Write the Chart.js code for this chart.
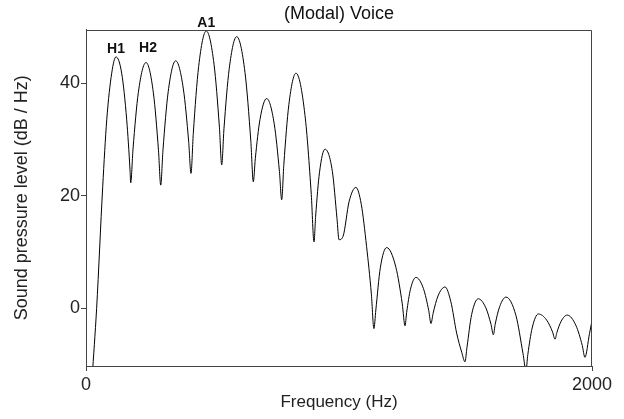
<!DOCTYPE html>
<html>
<head>
<meta charset="utf-8">
<script src="https://cdn.jsdelivr.net/npm/chart.js@4.4.0/dist/chart.umd.min.js"></script>
<style>
  body { margin: 0; background: #fff; }
  #chart { display: block; }
</style>
</head>
<body>
<canvas id="chart" width="624" height="419"></canvas>
<script>
// spectrum: frequency (Hz) and level (dB/Hz)
const freqHz = [
  24, 42, 66, 82, 101.6, 118.6, 141, 160.9, 174, 176.7,
  185.8, 207, 237.2, 266.3, 286.6, 295.3, 304.2, 324.9, 354.5, 384.8,
  405.9, 415, 424.1, 445.3, 475.5, 506, 527.3, 536.4, 545.3, 566.1,
  595.7, 628.5, 651.5, 661.3, 669.2, 687.8, 714.2, 743.9, 764.6, 773.5,
  782, 801.8, 830, 865.6, 890.5, 901.2, 907.7, 923, 944.7, 973.9,
  992, 1000, 1016, 1040, 1067, 1088, 1109, 1128, 1138, 1145.6,
  1163.3, 1188.5, 1224.8, 1250.1, 1261, 1267.5, 1282.5, 1304, 1333.8, 1354.7,
  1363.6, 1371.9, 1391.3, 1419, 1442, 1465, 1485, 1498, 1505.9, 1524.3,
  1550.6, 1580.3, 1601.1, 1610, 1617.5, 1635, 1660, 1699.5, 1727.2, 1739,
  1746.4, 1763.5, 1788, 1821, 1844.1, 1854, 1861.2, 1878, 1902, 1937,
  1961.5, 1972, 1990, 2000
];
const levelDb = [
  -12.5, 0, 21.6, 33.5, 41.8, 44.7, 41.8, 33.5, 24.6, 22.3,
  28.3, 38.4, 43.7, 38.3, 28.0, 21.9, 28.1, 38.5, 44.0, 39.0,
  29.6, 24.0, 31.1, 43.0, 49.3, 43.4, 32.2, 25.5, 31.9, 42.6,
  48.3, 41.9, 29.7, 22.5, 26.6, 33.6, 37.3, 32.8, 24.3, 19.3,
  25.6, 36.2, 41.8, 34.3, 20.2, 11.8, 16.4, 24.2, 28.3, 24.3,
  16.0, 12.2, 12.8, 19.0, 21.5, 18.5, 11.0, 2.5, -3.6, -0.3,
  7.2, 10.8, 7.3, 0.8, -3.1, -0.7, 3.4, 5.5, 3.5, -0.4,
  -2.7, -0.9, 2.2, 3.8, 1.2, -4.4, -7.8, -9.5, -6.9, -1.1,
  1.7, 0.1, -2.9, -4.7, -2.8, 0.3, 2.0, -1.3, -8.0, -11.0,
  -8.2, -3.5, -1.0, -2.1, -4.2, -5.5, -4.3, -2.3, -1.2, -3.1,
  -6.6, -8.7, -4.5, -2.2
];

const xTicks = [0, 2000];
const yTicks = [0, 20, 40];

// harmonic labels sit over these peaks
const peakLabels = ['H1', 'H2', 'A1'];
const peakFreq = [118.6, 237.2, 475.5];
const peakLevel = [44.7, 43.7, 49.3];

Chart.defaults.font.family = "'Liberation Sans', Arial, sans-serif";
Chart.defaults.color = '#222';

const frame = {
  id: 'frame',
  afterDraw(chart) {
    const { ctx, chartArea: a, scales } = chart;
    ctx.save();
    ctx.strokeStyle = '#444';
    ctx.lineWidth = 1;
    ctx.beginPath();
    ctx.moveTo(Math.round(a.left) + 0.5, Math.round(a.top) + 0.5);
    ctx.lineTo(Math.round(a.right) - 0.5, Math.round(a.top) + 0.5);
    ctx.lineTo(Math.round(a.right) - 0.5, Math.round(a.bottom) + 0.5);
    ctx.stroke();

    ctx.fillStyle = '#111';
    ctx.font = "bold 14px 'Liberation Sans', Arial, sans-serif";
    ctx.textAlign = 'center';
    ctx.textBaseline = 'middle';
    const lift = [8, 14, 8];
    peakLabels.forEach((t, i) => {
      const x = scales.x.getPixelForValue(peakFreq[i]) + (i === 1 ? 2 : 0);
      const y = scales.y.getPixelForValue(peakLevel[i]) - lift[i];
      ctx.fillText(t, x, y);
    });
    ctx.restore();
  }
};

new Chart(document.getElementById('chart'), {
  type: 'line',
  data: {
    datasets: [{
      data: freqHz.map((f, i) => ({ x: f, y: levelDb[i] })),
      borderColor: '#000',
      borderWidth: 1,
      pointRadius: 0,
      cubicInterpolationMode: 'monotone',
      fill: false
    }]
  },
  options: {
    responsive: false,
    animation: false,
    layout: { padding: { left: 0, right: 32, top: 0, bottom: 0 } },
    plugins: {
      legend: { display: false },
      tooltip: { enabled: false },
      title: {
        display: true,
        text: '(Modal) Voice',
        fullSize: false,
        color: '#111',
        font: { size: 18, weight: 'normal' },
        padding: { top: 3, bottom: 5 }
      }
    },
    scales: {
      x: {
        type: 'linear',
        min: 0,
        max: 2000,
        afterBuildTicks: s => { s.ticks = xTicks.map(v => ({ value: v })); },
        afterFit: s => { s.height = 53; },
        grid: { display: true, drawOnChartArea: false, drawTicks: true, tickLength: 5, color: '#444' },
        border: { display: true, color: '#444' },
        ticks: { autoSkip: false, maxRotation: 0, padding: 3, font: { size: 18 }, color: '#222', callback: v => String(v) },
        title: {
          display: true,
          text: 'Frequency (Hz)',
          color: '#222',
          font: { size: 17 },
          padding: { top: 0, bottom: 6 }
        }
      },
      y: {
        type: 'linear',
        min: -10.25,
        max: 49.55,
        afterBuildTicks: s => { s.ticks = yTicks.map(v => ({ value: v })); },
        afterFit: s => { s.width = 86; },
        grid: { display: true, drawOnChartArea: false, drawTicks: true, tickLength: 5, color: '#444' },
        border: { display: true, color: '#444' },
        ticks: { autoSkip: false, padding: 1, font: { size: 18 }, color: '#222', callback: v => String(v) },
        title: {
          display: true,
          text: 'Sound pressure level (dB / Hz)',
          color: '#222',
          font: { size: 18 },
          padding: { top: 11, bottom: 0 }
        }
      }
    }
  },
  plugins: [frame]
});
</script>
</body>
</html>
